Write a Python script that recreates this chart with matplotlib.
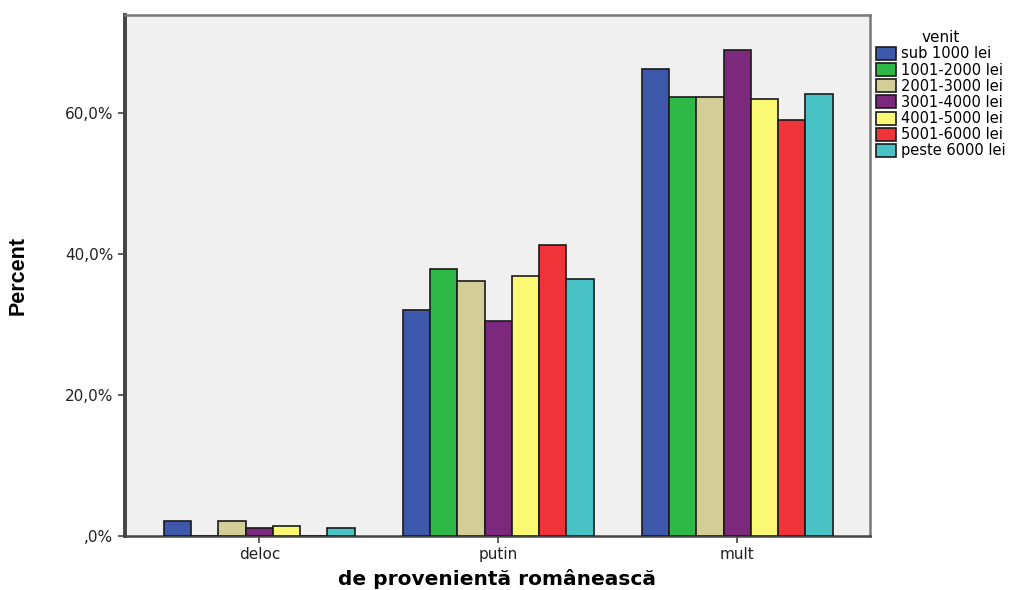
import numpy as np
import matplotlib.pyplot as plt
from matplotlib.patches import Patch

categories = ["deloc", "putin", "mult"]
groups = ["sub 1000 lei", "1001-2000 lei", "2001-3000 lei", "3001-4000 lei",
          "4001-5000 lei", "5001-6000 lei", "peste 6000 lei"]
colors = ["#3e58ac", "#2eb848", "#d3ce97", "#7b287d", "#fbf873", "#ef3338", "#48c2c5"]

# percent per income group, one value per category (deloc, putin, mult)
values = [
    [2.1, 32.0, 66.2],
    [0.0, 37.9, 62.3],
    [2.0, 36.1, 62.3],
    [1.0, 30.4, 68.9],
    [1.3, 36.9, 62.0],
    [0.0, 41.3, 59.0],
    [1.1, 36.4, 62.7],
]
yticks = [0, 20, 40, 60]
yticklabels = [",0%", "20,0%", "40,0%", "60,0%"]

fig = plt.figure(figsize=(10.27, 5.9), dpi=100)
ax = fig.add_axes([125 / 1027, 1 - 535.5 / 590, 745 / 1027, 520.5 / 590])
ax.set_facecolor("#f0f0f0")

x = np.arange(len(categories))
w = 0.114
for i, (g, vals) in enumerate(zip(groups, values)):
    ax.bar(x + (i - 3) * w, vals, width=w, color=colors[i], edgecolor="#1a1a1a",
           linewidth=1.2, label=g, zorder=3)

ax.set_xlim(-0.562, 2.555)
ax.set_ylim(0, 73.9)
ax.set_xticks(x)
ax.set_xticklabels(categories, fontsize=11, color="#222222")
ax.set_yticks(yticks)
ax.set_yticklabels(yticklabels, fontsize=11, color="#222222")
ax.tick_params(axis="both", direction="out", length=5, width=1.2, color="#444444")

for s in ax.spines.values():
    s.set_color("#777777")
    s.set_linewidth(1.8)
ax.spines["left"].set_linewidth(2.8)
ax.spines["left"].set_color("#444444")
ax.spines["bottom"].set_color("#444444")

ax.set_xlabel("de provenientă românească", fontsize=14.5, fontweight="bold",
              labelpad=5, family=["DejaVu Sans"])
ax.set_ylabel("Percent", fontsize=15.5, fontweight="bold", labelpad=26,
              family=["Liberation Sans", "DejaVu Sans"])

handles = [Patch(facecolor=c, edgecolor="#1a1a1a", linewidth=1.2) for c in colors]
leg = fig.legend(handles, groups, title="venit", loc="upper left",
                 bbox_to_anchor=(866 / 1027, 1 - 20 / 590), frameon=False,
                 fontsize=10.5, title_fontsize=11, handlelength=1.35,
                 handleheight=1.0, handletextpad=0.35, labelspacing=0.08,
                 borderpad=0.2)

fig.savefig("out.png", dpi=100)
